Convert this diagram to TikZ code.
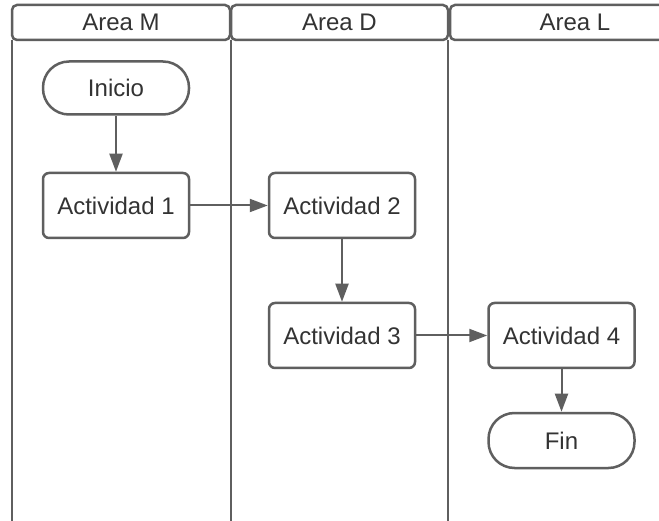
\documentclass[tikz,border=0pt]{standalone}
\usepackage{fontspec}
\setmainfont{Liberation Sans}
\usetikzlibrary{arrows.meta}

\definecolor{linegray}{HTML}{5F5F5F}
\definecolor{textgray}{HTML}{333333}

\tikzset{
  lanehead/.style={draw=linegray, line width=2.5pt, rounded corners=5pt,
    minimum height=35pt, inner sep=0pt, text=textgray,
    font=\fontsize{24}{28}\selectfont},
  actbox/.style={draw=linegray, line width=2.5pt, rounded corners=6pt,
    minimum width=146pt, minimum height=65pt, inner sep=0pt, text=textgray,
    font=\fontsize{24}{28}\selectfont},
  terminal/.style={actbox, rounded corners=26pt, minimum height=53pt},
  flow/.style={draw=linegray, line width=2pt,
    -{Triangle[length=18pt,width=13pt]}}
}

\begin{document}
\begin{tikzpicture}[x=1pt,y=-1pt]
      \clip (0,0) rectangle (659,521) ;
      \fill[white] (0,0) rectangle (659,521) ;
      % lanes
      \draw[linegray,line width=2.5pt] (12,40)--(12,530) ;
      \draw[linegray,line width=2.5pt] (231,40)--(231,530) ;
      \draw[linegray,line width=2.5pt] (448,40)--(448,530) ;
      \node[lanehead,minimum width=218pt] (headM) at (121,22.5) {Area M} ;
      \node[lanehead,minimum width=217pt] (headD) at (339.5,22.5) {Area D} ;
      \node[lanehead,minimum width=250pt] (headL) at (575,22.5) {Area L} ;
      % steps
      \node[terminal] (inicio) at (116,88) {Inicio} ;
      \node[actbox] (act1) at (116,205.5) {Actividad 1} ;
      \node[actbox] (act2) at (342,205.5) {Actividad 2} ;
      \node[actbox] (act3) at (342,335.5) {Actividad 3} ;
      \node[actbox] (act4) at (561.5,335.5) {Actividad 4} ;
      \node[terminal,minimum height=55pt] (fin) at (561.5,440.5) {Fin} ;
      % flow
      \draw[flow] (inicio)--(act1) ;
      \draw[flow] (act1)--(act2) ;
      \draw[flow] (act2)--(act3) ;
      \draw[flow] (act3)--(act4) ;
      \draw[flow] (act4)--(fin) ;
    \end{tikzpicture}
\end{document}
